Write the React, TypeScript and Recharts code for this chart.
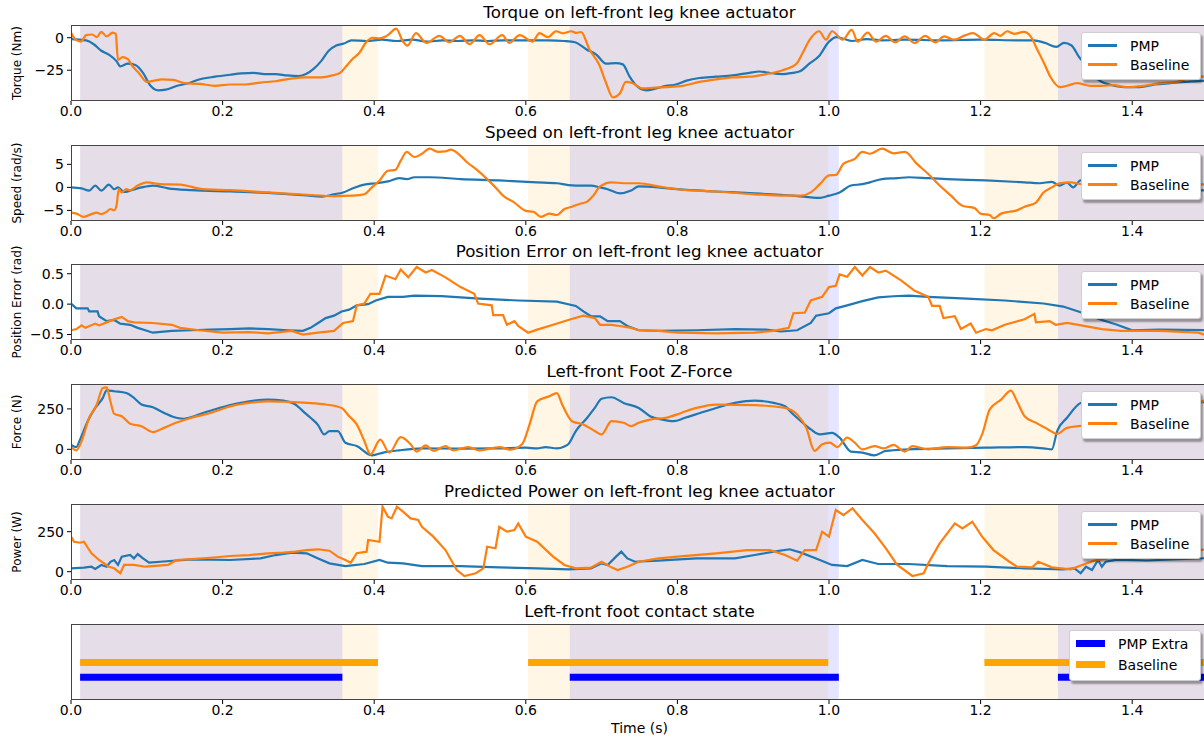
import React from "react";
import { LineChart, Line, XAxis, YAxis, ReferenceArea, Label } from "recharts";

type Pt = [number, number];

// contact intervals (s) - drive both the shading and the bottom panel
const baseStart = [0.012, 0.603, 1.205];
const baseEnd = [0.405, 0.999, 1.5];
const pmpStart = [0.012, 0.658, 1.302];
const pmpEnd = [0.358, 1.013, 1.5];

const xTicks = [0, 0.2, 0.4, 0.6, 0.8, 1.0, 1.2, 1.4];

const torquePmp: Pt[] = [[0,-1],[0.02,-2],[0.03,-5],[0.04,-10],[0.05,-13],[0.06,-18],[0.065,-22],[0.075,-20],[0.085,-21],[0.095,-27],[0.105,-37],[0.115,-40.5],[0.125,-40],[0.14,-37],[0.155,-35],[0.17,-32],[0.19,-30],[0.21,-28.5],[0.225,-27.5],[0.24,-27],[0.255,-28],[0.27,-28],[0.285,-29],[0.3,-29.5],[0.31,-28],[0.32,-24],[0.33,-18],[0.34,-10],[0.35,-6],[0.36,-4.5],[0.37,-2],[0.39,-2.5],[0.41,-1.5],[0.43,-2.5],[0.45,-1.5],[0.47,-3],[0.49,-2],[0.51,-2.5],[0.53,-2],[0.55,-2.5],[0.57,-2],[0.6,-2],[0.63,-2],[0.65,-2.5],[0.665,-3.5],[0.68,-9],[0.693,-13],[0.706,-20],[0.719,-19.5],[0.728,-20.5],[0.737,-30],[0.746,-37],[0.759,-40.5],[0.772,-39],[0.785,-37],[0.798,-36],[0.812,-33],[0.829,-31],[0.851,-30],[0.873,-29],[0.895,-27],[0.908,-26],[0.921,-27],[0.939,-28],[0.952,-27],[0.961,-26],[0.974,-20],[0.987,-14],[1.0,-3],[1.01,0.5],[1.02,-1],[1.03,-2.5],[1.05,-1],[1.07,-2],[1.1,-1.5],[1.15,-2],[1.2,-1.5],[1.25,-2],[1.27,-2],[1.285,-4],[1.3,-7],[1.31,-4],[1.32,-6],[1.33,-15],[1.34,-22],[1.35,-30],[1.36,-34],[1.37,-36],[1.39,-38],[1.41,-38],[1.43,-36],[1.45,-35],[1.47,-34],[1.5,-33]];
const torqueBase: Pt[] = [[0,4],[0.006,-1.5],[0.013,-3],[0.02,2],[0.028,2.5],[0.034,0.5],[0.04,4.5],[0.047,1],[0.055,4],[0.059,3],[0.062,-17],[0.068,-15],[0.075,-16.5],[0.08,-21],[0.09,-27.5],[0.1,-34],[0.11,-33],[0.12,-32],[0.135,-32.5],[0.15,-35],[0.17,-35.5],[0.19,-37],[0.21,-36],[0.23,-36],[0.25,-34.5],[0.27,-33.5],[0.29,-31.5],[0.31,-30.5],[0.33,-30.5],[0.345,-29],[0.355,-27],[0.363,-22],[0.372,-16],[0.38,-12],[0.39,-3],[0.398,0],[0.407,-0.5],[0.415,1],[0.42,3],[0.429,7],[0.438,-3],[0.444,-6],[0.455,3.6],[0.469,-4],[0.486,1.5],[0.499,-3.5],[0.513,1.5],[0.526,-5],[0.539,2],[0.552,-5],[0.569,2],[0.578,-4],[0.592,2],[0.609,-3],[0.618,3.6],[0.629,0.5],[0.64,5],[0.649,3.4],[0.66,5],[0.666,3.7],[0.673,4.3],[0.684,-9],[0.697,-21],[0.706,-35],[0.715,-46],[0.724,-43],[0.732,-34],[0.741,-35],[0.754,-39],[0.768,-38.5],[0.785,-38],[0.807,-37],[0.829,-34],[0.851,-32],[0.873,-30.5],[0.895,-30],[0.917,-28],[0.939,-25],[0.957,-20],[0.965,-12],[0.974,-2],[0.987,5],[0.996,-1.5],[1.004,5],[1.018,-1.5],[1.03,6],[1.038,-3],[1.051,4],[1.062,-3],[1.075,1.5],[1.087,-3.5],[1.1,1],[1.113,-4],[1.127,1.5],[1.14,-3.5],[1.152,1],[1.165,-1.5],[1.18,2],[1.19,3.6],[1.205,-1.5],[1.218,3.6],[1.226,1.5],[1.235,5],[1.244,3],[1.257,4.5],[1.266,1],[1.275,-9.4],[1.284,-20],[1.292,-30],[1.305,-38],[1.314,-37],[1.327,-35],[1.345,-37],[1.36,-37],[1.375,-36.5],[1.393,-38],[1.415,-37],[1.437,-35],[1.459,-34],[1.481,-30],[1.5,-30]];

const speedPmp: Pt[] = [[0,0],[0.014,-0.2],[0.024,-0.7],[0.032,0.4],[0.04,-0.7],[0.05,0.6],[0.057,-0.4],[0.062,0],[0.07,-1],[0.08,-0.6],[0.093,0],[0.108,0.4],[0.128,-0.2],[0.159,-0.6],[0.21,-0.9],[0.26,-1.2],[0.311,-1.75],[0.331,-2],[0.347,-1.5],[0.359,-1.1],[0.372,-0.2],[0.387,0.6],[0.402,0.9],[0.418,1.3],[0.433,2],[0.443,1.8],[0.453,2.2],[0.473,2.2],[0.514,1.8],[0.565,1.5],[0.615,1.1],[0.641,0.9],[0.656,0.5],[0.666,0.4],[0.686,0.4],[0.698,0],[0.708,-0.4],[0.724,-1.3],[0.739,-0.7],[0.749,0.2],[0.775,0],[0.8,-0.4],[0.851,-0.9],[0.902,-1.3],[0.953,-1.8],[0.988,-2.3],[1.0,-1.8],[1.014,-1.1],[1.029,0.4],[1.044,0.7],[1.054,1.1],[1.07,1.8],[1.09,2],[1.105,2.2],[1.131,2],[1.156,1.8],[1.207,1.5],[1.258,1.1],[1.278,0.9],[1.294,1.2],[1.304,0.4],[1.314,1],[1.322,0],[1.332,1.5],[1.345,0.5],[1.36,0.3],[1.4,0],[1.45,-0.3],[1.5,-0.7]];
const speedBase: Pt[] = [[0,-5.5],[0.007,-5.7],[0.017,-6.4],[0.027,-5.8],[0.034,-5.5],[0.04,-5.8],[0.047,-5.3],[0.052,-4.7],[0.057,-5],[0.06,-4],[0.063,-0.4],[0.067,-1.1],[0.073,-0.4],[0.078,-0.6],[0.088,0.4],[0.1,1.1],[0.118,0.7],[0.144,0.6],[0.174,-0.4],[0.21,-0.6],[0.26,-1.1],[0.311,-1.6],[0.347,-1.9],[0.372,-1.8],[0.387,-1.5],[0.397,0],[0.407,1.5],[0.418,3.6],[0.428,3.8],[0.435,5.8],[0.443,7.7],[0.453,6.6],[0.463,7.3],[0.473,8.4],[0.484,7.7],[0.494,7.8],[0.501,8.2],[0.511,7.3],[0.522,5.5],[0.534,4],[0.549,1.8],[0.56,0],[0.57,-1.8],[0.585,-3.3],[0.6,-5.1],[0.61,-5.3],[0.62,-6.4],[0.631,-5.7],[0.641,-6],[0.651,-4.7],[0.661,-4.2],[0.671,-3.6],[0.681,-3.1],[0.689,-1.8],[0.698,0.2],[0.713,1.1],[0.729,0.9],[0.749,0.9],[0.775,0.2],[0.8,-0.4],[0.851,-0.9],[0.902,-1.5],[0.942,-1.8],[0.963,-1.8],[0.976,-1.1],[0.988,0.7],[1.0,2.6],[1.009,2.7],[1.019,5.1],[1.034,6.2],[1.044,7.7],[1.054,7.3],[1.07,8.4],[1.085,7.4],[1.1,7.7],[1.116,5.1],[1.131,2.9],[1.146,0.4],[1.161,-1.8],[1.176,-4],[1.192,-4.5],[1.2,-5.7],[1.212,-6],[1.217,-6.7],[1.227,-5.7],[1.238,-5.3],[1.248,-5],[1.258,-4.2],[1.273,-3.3],[1.283,-1.1],[1.294,0],[1.304,0.9],[1.319,1.1],[1.334,0.7],[1.37,0.8],[1.42,0.5],[1.46,0.8],[1.5,0.6]];

const posPmp: Pt[] = [[0,0.01],[0.007,-0.07],[0.022,-0.07],[0.024,-0.12],[0.035,-0.12],[0.037,-0.2],[0.047,-0.28],[0.057,-0.26],[0.065,-0.32],[0.078,-0.34],[0.088,-0.39],[0.098,-0.43],[0.108,-0.47],[0.133,-0.44],[0.159,-0.43],[0.184,-0.42],[0.21,-0.41],[0.235,-0.4],[0.26,-0.41],[0.286,-0.43],[0.306,-0.44],[0.316,-0.39],[0.326,-0.31],[0.336,-0.23],[0.347,-0.19],[0.357,-0.12],[0.367,-0.09],[0.377,-0.02],[0.392,0],[0.402,0.06],[0.418,0.12],[0.438,0.12],[0.453,0.14],[0.489,0.13],[0.539,0.09],[0.59,0.06],[0.641,0.04],[0.666,-0.03],[0.676,-0.12],[0.686,-0.2],[0.698,-0.2],[0.708,-0.28],[0.724,-0.28],[0.734,-0.36],[0.749,-0.43],[0.775,-0.44],[0.825,-0.43],[0.876,-0.41],[0.917,-0.42],[0.937,-0.45],[0.958,-0.43],[0.976,-0.31],[0.983,-0.19],[1.0,-0.15],[1.009,-0.07],[1.024,-0.02],[1.044,0.05],[1.065,0.11],[1.085,0.13],[1.105,0.14],[1.131,0.12],[1.182,0.09],[1.232,0.06],[1.283,0.01],[1.309,-0.04],[1.329,-0.12],[1.36,-0.26],[1.38,-0.34],[1.4,-0.43],[1.436,-0.42],[1.5,-0.43]];
const posBase: Pt[] = [[0,-0.43],[0.007,-0.41],[0.014,-0.35],[0.019,-0.39],[0.032,-0.32],[0.037,-0.35],[0.047,-0.3],[0.057,-0.25],[0.067,-0.21],[0.075,-0.28],[0.083,-0.3],[0.108,-0.31],[0.133,-0.34],[0.144,-0.39],[0.169,-0.43],[0.2,-0.47],[0.235,-0.46],[0.26,-0.48],[0.291,-0.44],[0.306,-0.5],[0.326,-0.47],[0.347,-0.44],[0.359,-0.31],[0.372,-0.28],[0.377,-0.02],[0.387,0.01],[0.395,0.17],[0.407,0.17],[0.415,0.47],[0.428,0.41],[0.435,0.57],[0.445,0.44],[0.456,0.61],[0.468,0.52],[0.476,0.56],[0.494,0.44],[0.514,0.28],[0.532,0.17],[0.537,0.01],[0.555,-0.02],[0.557,-0.18],[0.57,-0.18],[0.575,-0.34],[0.585,-0.28],[0.59,-0.36],[0.603,-0.47],[0.615,-0.42],[0.636,-0.34],[0.656,-0.26],[0.676,-0.19],[0.691,-0.23],[0.698,-0.34],[0.713,-0.34],[0.724,-0.36],[0.739,-0.39],[0.749,-0.43],[0.775,-0.44],[0.8,-0.47],[0.851,-0.48],[0.902,-0.47],[0.927,-0.44],[0.947,-0.39],[0.953,-0.15],[0.968,-0.14],[0.976,0.06],[0.991,0.12],[1.0,0.28],[1.009,0.3],[1.014,0.49],[1.024,0.45],[1.034,0.61],[1.044,0.47],[1.054,0.61],[1.065,0.52],[1.075,0.55],[1.095,0.39],[1.113,0.22],[1.131,0.12],[1.136,-0.03],[1.146,-0.03],[1.151,-0.23],[1.166,-0.2],[1.174,-0.41],[1.187,-0.32],[1.194,-0.47],[1.207,-0.41],[1.215,-0.43],[1.232,-0.34],[1.258,-0.25],[1.271,-0.16],[1.273,-0.3],[1.291,-0.28],[1.299,-0.34],[1.314,-0.31],[1.329,-0.34],[1.36,-0.41],[1.385,-0.44],[1.436,-0.44],[1.487,-0.47],[1.5,-0.52]];

const forcePmp: Pt[] = [[0,27],[0.007,14],[0.012,61],[0.022,174],[0.032,256],[0.042,318],[0.047,365],[0.057,359],[0.073,348],[0.083,318],[0.093,277],[0.108,260],[0.123,225],[0.139,195],[0.149,189],[0.159,199],[0.174,225],[0.189,246],[0.21,273],[0.235,297],[0.26,307],[0.28,301],[0.296,277],[0.306,236],[0.316,195],[0.326,150],[0.334,92],[0.341,113],[0.352,113],[0.362,41],[0.377,20],[0.397,-37],[0.412,-20],[0.433,-6],[0.463,6],[0.514,4],[0.565,6],[0.6,10],[0.615,6],[0.626,14],[0.641,6],[0.651,18],[0.656,31],[0.666,113],[0.681,195],[0.691,256],[0.7,313],[0.713,322],[0.729,287],[0.749,256],[0.764,205],[0.78,184],[0.795,174],[0.81,195],[0.83,225],[0.851,256],[0.876,287],[0.902,301],[0.927,287],[0.942,266],[0.953,215],[0.963,174],[0.976,123],[0.988,92],[1.004,102],[1.014,72],[1.029,-14],[1.044,-20],[1.06,-37],[1.075,-10],[1.105,0],[1.156,6],[1.207,10],[1.258,14],[1.283,6],[1.294,0],[1.301,113],[1.314,195],[1.332,287],[1.36,310],[1.4,330],[1.45,310],[1.5,290]];
const forceBase: Pt[] = [[0,14],[0.007,-6],[0.014,51],[0.024,195],[0.034,277],[0.042,379],[0.047,383],[0.052,297],[0.057,219],[0.067,205],[0.078,158],[0.093,143],[0.108,107],[0.118,123],[0.133,154],[0.159,195],[0.184,225],[0.21,266],[0.235,287],[0.26,297],[0.286,293],[0.311,287],[0.336,277],[0.357,256],[0.367,205],[0.377,154],[0.387,51],[0.395,-31],[0.408,60],[0.42,-20],[0.435,75],[0.448,31],[0.456,-14],[0.468,25],[0.478,-10],[0.494,20],[0.504,-6],[0.524,14],[0.539,-6],[0.565,14],[0.58,-2],[0.595,31],[0.605,154],[0.615,297],[0.631,328],[0.641,348],[0.648,277],[0.661,174],[0.676,154],[0.691,113],[0.7,92],[0.713,174],[0.729,164],[0.739,143],[0.749,164],[0.764,184],[0.785,195],[0.805,225],[0.825,256],[0.851,277],[0.902,273],[0.942,256],[0.958,215],[0.97,133],[0.981,-10],[0.991,31],[1.001,41],[1.011,14],[1.024,72],[1.034,41],[1.044,0],[1.06,20],[1.072,6],[1.085,27],[1.1,-14],[1.11,20],[1.131,0],[1.156,14],[1.182,10],[1.194,25],[1.202,92],[1.212,246],[1.227,307],[1.24,363],[1.248,297],[1.258,205],[1.273,164],[1.289,123],[1.301,96],[1.314,133],[1.329,143],[1.36,150],[1.42,170],[1.47,230],[1.5,320]];

const powerPmp: Pt[] = [[0,21],[0.017,25],[0.027,31],[0.032,17],[0.04,42],[0.047,31],[0.052,62],[0.057,73],[0.062,42],[0.067,94],[0.078,104],[0.083,83],[0.088,110],[0.095,83],[0.103,56],[0.118,62],[0.159,77],[0.21,73],[0.25,83],[0.27,104],[0.291,119],[0.311,115],[0.326,83],[0.341,52],[0.362,35],[0.387,48],[0.407,73],[0.418,56],[0.438,52],[0.463,35],[0.514,35],[0.565,27],[0.615,21],[0.656,15],[0.686,21],[0.7,52],[0.708,42],[0.719,94],[0.726,125],[0.734,83],[0.744,62],[0.775,69],[0.825,83],[0.876,83],[0.902,104],[0.927,125],[0.948,140],[0.963,119],[0.983,83],[1.004,42],[1.024,35],[1.044,73],[1.065,48],[1.105,48],[1.156,35],[1.207,31],[1.258,21],[1.309,15],[1.324,21],[1.332,-10],[1.339,31],[1.347,10],[1.355,73],[1.36,31],[1.365,62],[1.38,75],[1.42,70],[1.46,78],[1.5,85]];
const powerBase: Pt[] = [[0,219],[0.004,187],[0.012,181],[0.017,187],[0.027,115],[0.037,73],[0.05,31],[0.057,21],[0.065,-10],[0.07,42],[0.083,42],[0.098,31],[0.128,42],[0.139,73],[0.159,79],[0.184,87],[0.21,98],[0.235,104],[0.26,115],[0.28,119],[0.296,125],[0.311,135],[0.326,140],[0.341,131],[0.352,94],[0.362,73],[0.369,56],[0.377,115],[0.39,125],[0.392,198],[0.407,187],[0.411,406],[0.418,344],[0.423,333],[0.43,406],[0.438,375],[0.448,333],[0.458,323],[0.463,281],[0.478,219],[0.494,135],[0.509,10],[0.519,-27],[0.534,-10],[0.544,21],[0.549,156],[0.56,146],[0.565,281],[0.575,250],[0.585,260],[0.59,302],[0.6,219],[0.615,187],[0.636,94],[0.651,42],[0.666,21],[0.686,25],[0.7,62],[0.713,27],[0.721,10],[0.734,31],[0.749,62],[0.775,83],[0.8,94],[0.851,115],[0.892,135],[0.922,135],[0.942,104],[0.958,69],[0.968,135],[0.983,135],[0.991,250],[1.0,219],[1.009,385],[1.019,354],[1.031,396],[1.044,323],[1.06,240],[1.075,146],[1.09,42],[1.11,-27],[1.125,-10],[1.131,52],[1.146,177],[1.166,302],[1.176,271],[1.189,312],[1.202,219],[1.217,135],[1.238,62],[1.248,31],[1.268,27],[1.276,62],[1.294,27],[1.319,15],[1.334,42],[1.35,69],[1.4,110],[1.45,120],[1.5,140]];

const PMP = "#1f77b4";
const BASE = "#ff7f0e";
const FONT = "DejaVu Sans, sans-serif";
const CHART_W = 1250;
const RIGHT_PAD = 42; // plot spans x 71..1208, a little past the window edge
const PLOT_H = 76;

const rows = (pts: Pt[]) => pts.map(([t, v]) => ({ t, v }));
const minus = (v: number, digits = 0) => {
  const s = Math.abs(v).toFixed(digits);
  return v < 0 ? "\u2212" + s : s;
};

function Shading() {
  return (
    <>
      {baseStart.map((s, i) => (
        <ReferenceArea key={"b" + i} x1={s} x2={baseEnd[i]} fill="#ffa500" fillOpacity={0.1} stroke="none" ifOverflow="hidden" />
      ))}
      {pmpStart.map((s, i) => (
        <ReferenceArea key={"p" + i} x1={s} x2={pmpEnd[i]} fill="#0000ff" fillOpacity={0.1} stroke="none" ifOverflow="hidden" />
      ))}
    </>
  );
}

type Item = { label: string; color: string };

function LegendBox({ top, left, height, rowTop, rowH, lineW, items }: { top: number; left: number; height: number; rowTop: number; rowH: number; lineW: number; items: Item[] }) {
  return (
    <div style={{ position: "absolute", left, top, width: 1201 - left, height, background: "#fff", border: "1px solid #cfcfcf", borderRadius: 3, boxShadow: "2px 3px 2px rgba(0,0,0,0.35)", boxSizing: "border-box" }}>
      {items.map((it, i) => (
        <div key={it.label} style={{ position: "absolute", left: 6, top: rowTop + i * rowH, height: rowH, display: "flex", alignItems: "center" }}>
          <div style={{ width: 29, height: lineW, background: it.color }} />
          <span style={{ marginLeft: 13, fontSize: 14, color: "#000", fontFamily: FONT }}>{it.label}</span>
        </div>
      ))}
    </div>
  );
}

function Frame({ top }: { top: number }) {
  return <div style={{ position: "absolute", left: 71, top, width: 1137, height: PLOT_H, border: "1px solid #444", boxSizing: "border-box", pointerEvents: "none" }} />;
}

function Title({ top, text }: { top: number; text: string }) {
  return (
    <div style={{ position: "absolute", left: 71, width: 1137, top: top - 21, textAlign: "center", fontSize: 16.7, lineHeight: 1, fontFamily: FONT, color: "#000" }}>
      {text}
    </div>
  );
}

function YLabel({ top, text }: { top: number; text: string }) {
  return (
    <div style={{ position: "absolute", left: 17, top: top + PLOT_H / 2, transform: "translate(-50%, -50%) rotate(-90deg)", whiteSpace: "nowrap", fontSize: 12, lineHeight: 1, fontFamily: FONT, color: "#000" }}>
      {text}
    </div>
  );
}

type PanelProps = {
  top: number;
  title: string;
  ylabel: string;
  domain: [number, number];
  ticks: number[];
  digits: number;
  pmp: Pt[];
  base: Pt[];
  curve: "monotone" | "linear";
};

function Panel({ top, title, ylabel, domain, ticks, digits, pmp, base, curve }: PanelProps) {
  return (
    <>
      <Title top={top} text={title} />
      <YLabel top={top} text={ylabel} />
      <div style={{ position: "absolute", left: 0, top }}>
        <LineChart width={CHART_W} height={PLOT_H + 30} margin={{ top: 0, right: RIGHT_PAD, bottom: 0, left: 0 }}>
          <XAxis dataKey="t" type="number" domain={[0, 1.5]} ticks={xTicks} allowDataOverflow height={30} axisLine={false} tickSize={4} tickMargin={1} tick={{ fontSize: 14, fill: "#000", fontFamily: FONT }} tickFormatter={(v: number) => v.toFixed(1)} stroke="#000" />
          <YAxis type="number" domain={domain} ticks={ticks} allowDataOverflow width={71} axisLine={false} tickSize={4} tickMargin={3} tick={{ fontSize: 14, fill: "#000", fontFamily: FONT }} tickFormatter={(v: number) => minus(v, digits)} stroke="#000" />
          {Shading()}
          <Line data={rows(pmp)} dataKey="v" type={curve} stroke={PMP} strokeWidth={2.2} dot={false} isAnimationActive={false} />
          <Line data={rows(base)} dataKey="v" type={curve} stroke={BASE} strokeWidth={2.2} dot={false} isAnimationActive={false} />
        </LineChart>
      </div>
      <Frame top={top} />
      <LegendBox top={top + 7} left={1081} height={48} rowTop={3} rowH={19} lineW={2.2} items={[{ label: "PMP", color: PMP }, { label: "Baseline", color: BASE }]} />
    </>
  );
}

function ContactPanel({ top }: { top: number }) {
  const baseSegs = baseStart.map((s, i) => [{ t: s, v: 1 }, { t: baseEnd[i], v: 1 }]);
  const pmpSegs = pmpStart.map((s, i) => [{ t: s, v: 0 }, { t: pmpEnd[i], v: 0 }]);
  return (
    <>
      <Title top={top} text="Left-front foot contact state" />
      <div style={{ position: "absolute", left: 0, top }}>
        <LineChart width={CHART_W} height={PLOT_H + 40} margin={{ top: 0, right: RIGHT_PAD, bottom: 0, left: 0 }}>
          <XAxis dataKey="t" type="number" domain={[0, 1.5]} ticks={xTicks} allowDataOverflow height={40} axisLine={false} tickSize={4} tickMargin={1} tick={{ fontSize: 14, fill: "#000", fontFamily: FONT }} tickFormatter={(v: number) => v.toFixed(1)} stroke="#000">
            <Label value="Time (s)" position="insideBottom" offset={7} style={{ fontSize: 14, fill: "#000", fontFamily: FONT }} />
          </XAxis>
          <YAxis type="number" domain={[-1.53, 3.6]} allowDataOverflow width={71} axisLine={false} tick={false} tickLine={false} />
          {Shading()}
          {baseSegs.map((d, i) => (
            <Line key={"bs" + i} data={d} dataKey="v" stroke="#ffa500" strokeWidth={7} strokeLinecap="butt" dot={false} isAnimationActive={false} />
          ))}
          {pmpSegs.map((d, i) => (
            <Line key={"ps" + i} data={d} dataKey="v" stroke="#0000ff" strokeWidth={7} strokeLinecap="butt" dot={false} isAnimationActive={false} />
          ))}
        </LineChart>
      </div>
      <Frame top={top} />
      <LegendBox top={top + 6} left={1069} height={51} rowTop={2} rowH={21} lineW={7} items={[{ label: "PMP Extra", color: "#0000ff" }, { label: "Baseline", color: "#ffa500" }]} />
    </>
  );
}

export default function App() {
  return (
    <div style={{ position: "absolute", left: 0, top: 0, width: 1204, height: 740, overflow: "hidden", background: "#fff", fontFamily: FONT }}>
      <Panel top={25} title="Torque on left-front leg knee actuator" ylabel="Torque (Nm)" domain={[-48.7, 9.8]} ticks={[-25, 0]} digits={0} pmp={torquePmp} base={torqueBase} curve="monotone" />
      <Panel top={145} title="Speed on left-front leg knee actuator" ylabel="Speed (rad/s)" domain={[-7.3, 9.2]} ticks={[-5, 0, 5]} digits={0} pmp={speedPmp} base={speedBase} curve="monotone" />
      <Panel top={264} title="Position Error on left-front leg knee actuator" ylabel="Position Error (rad)" domain={[-0.59, 0.66]} ticks={[-0.5, 0, 0.5]} digits={1} pmp={posPmp} base={posBase} curve="linear" />
      <Panel top={384} title="Left-front Foot Z-Force" ylabel="Force (N)" domain={[-66, 404]} ticks={[0, 250]} digits={0} pmp={forcePmp} base={forceBase} curve="monotone" />
      <Panel top={504} title="Predicted Power on left-front leg knee actuator" ylabel="Power (W)" domain={[-52, 423]} ticks={[0, 250]} digits={0} pmp={powerPmp} base={powerBase} curve="linear" />
      <ContactPanel top={624} />
    </div>
  );
}
